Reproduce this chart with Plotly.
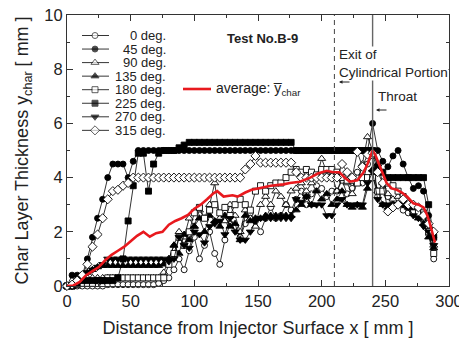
import plotly.graph_objects as go

# ---------------- data ----------------
x_mm = list(range(0, 292, 4))  # 0..288 mm

deg0 = [0, 0, 0, 0, 0, 0, 0, 0, 0.05, 0.05, 0.05, 0.05, 0.05, 0.05, 0.05, 0.05, 0.05, 0.05, 0.1, 0.2,
        0.3, 0.6, 1.0, 0.6, 1.3, 1.8, 1.0, 1.5, 2.0, 1.2, 0.8, 1.7, 2.3, 2.2, 1.8, 2.3, 2.7, 2.4, 2.0, 2.5,
        2.9, 2.5, 2.6, 3.0, 2.8, 3.2, 3.5, 3.0, 3.4, 3.7, 3.6, 3.3, 3.5, 3.5, 3.9, 3.4, 3.6, 4.2, 3.8, 4.5,
        4.8, 3.3, 3.6, 3.3, 3.0, 3.0, 2.8, 2.7, 2.7, 2.7, 2.5, 1.9, 1.0]
deg45 = [0, 0.4, 0.4, 0.4, 1.0, 1.8, 2.5, 3.2, 4.0, 4.5, 4.5, 4.5, 4.0, 4.6, 5.0, 5.0, 5.0, 5.0, 5.0, 5.0,
         5.0, 5.0, 5.0, 5.0, 5.0, 5.0, 5.0, 5.0, 5.0, 5.0, 5.0, 5.0, 5.0, 5.0, 5.0, 5.0, 5.0, 5.0, 5.0, 5.0,
         5.0, 5.0, 5.0, 5.0, 5.0, 5.0, 5.0, 5.0, 5.0, 5.0, 5.0, 5.0, 5.0, 5.0, 5.0, 5.0, 5.0, 5.0, 5.0, 5.0,
         6.0, 5.0, 4.6, 4.4, 4.8, 5.0, 4.5, 4.0, 3.6, 3.7, 3.5, 2.6, 1.8]
deg90 = [0, 0, 0.1, 0.2, 0.3, 0.3, 0.3, 0.3, 0.3, 0.3, 0.3, 0.3, 0.3, 0.3, 0.3, 0.3, 0.3, 0.3, 0.3, 0.5,
         1.0, 1.5, 2.0, 1.8, 2.5, 2.2, 2.8, 2.5, 3.0, 3.8, 2.5, 2.4, 3.0, 2.6, 2.0, 2.8, 2.5, 2.2, 3.0, 3.3,
         3.0, 3.5, 3.3, 3.0, 3.5, 3.6, 3.8, 3.5, 3.8, 4.0, 4.7, 4.2, 4.1, 3.5, 4.0, 3.8, 3.4, 3.8, 4.5, 5.5,
         5.0, 4.5, 3.8, 3.4, 3.2, 3.3, 3.0, 3.0, 2.8, 2.8, 2.6, 2.2, 1.5]
deg135 = [0, 0, 0.1, 0.3, 0.5, 0.6, 0.7, 0.75, 0.75, 0.75, 0.75, 0.75, 0.75, 0.75, 0.75, 0.75, 0.75, 0.75, 0.75, 0.8,
          1.0, 1.5, 1.2, 1.9, 1.7, 2.2, 2.5, 2.0, 2.6, 2.4, 2.2, 2.6, 2.2, 2.3, 1.7, 2.6, 2.4, 2.5, 2.5, 2.6,
          2.6, 2.6, 2.6, 2.6, 2.6, 2.8, 3.0, 3.3, 3.0, 3.5, 3.2, 3.4, 3.0, 3.2, 3.5, 3.0, 2.9, 3.0, 2.9, 3.6,
          4.3, 3.5, 3.0, 2.9, 3.0, 3.0, 3.0, 2.9, 2.8, 2.5, 2.3, 1.8, 1.4]
deg180 = [0, 0, 0.05, 0.1, 0.1, 0.1, 0.2, 0.2, 0.3, 0.3, 0.3, 0.3, 0.3, 0.3, 0.3, 0.3, 0.3, 0.3, 0.3, 0.3,
          0.8, 1.2, 1.8, 1.5, 2.0, 2.7, 2.9, 2.5, 2.8, 3.0, 2.7, 2.9, 2.6, 3.0, 3.2, 3.0, 2.8, 3.5, 3.7, 3.5,
          3.7, 3.8, 3.8, 4.0, 4.2, 4.3, 4.2, 4.3, 4.2, 4.1, 4.3, 4.3, 4.3, 4.2, 4.0, 3.9, 3.9, 3.8, 4.0, 4.0,
          4.0, 3.5, 3.5, 3.8, 3.7, 3.5, 3.3, 3.0, 2.7, 2.7, 2.7, 2.0, 1.2]
deg225 = [0, 0, 0.1, 0.2, 0.2, 0.2, 0.2, 0.2, 0.2, 0.2, 0.3, 1.0, 2.4, 3.7, 4.9, 4.9, 3.5, 4.5, 4.9, 5.0,
          5.0, 5.0, 5.1, 5.2, 5.3, 5.3, 5.3, 5.3, 5.3, 5.3, 5.3, 5.3, 5.3, 5.3, 5.3, 5.3, 5.3, 5.3, 5.3, 5.3,
          5.3, 5.3, 5.3, 5.3, 5.3, 5.0, 5.0, 5.0, 5.0, 5.0, 5.0, 5.0, 5.0, 5.0, 5.0, 5.0, 5.0, 5.0, 5.0, 5.0,
          5.0, 4.4, 4.2, 4.0, 4.0, 4.0, 4.0, 4.0, 4.0, 4.0, 4.0, 3.0, 1.8]
deg270 = [0, 0, 0.2, 0.3, 0.5, 0.6, 0.7, 0.8, 1.0, 1.0, 1.0, 1.0, 1.0, 1.0, 1.0, 1.0, 1.0, 1.0, 1.0, 1.0,
          0.9, 1.0, 1.8, 1.5, 1.4, 2.0, 1.9, 1.6, 2.2, 2.3, 2.4, 1.9, 2.5, 2.0, 1.7, 1.7, 2.0, 2.4, 2.5, 2.5,
          2.5, 2.5, 2.5, 2.5, 2.5, 3.2, 3.1, 3.3, 3.0, 3.0, 3.0, 2.6, 2.6, 3.0, 3.2, 3.0, 3.0, 3.0, 3.0, 3.8,
          4.2, 3.2, 3.0, 3.0, 3.0, 3.0, 3.0, 2.9, 2.6, 2.5, 2.2, 2.0, 1.5]
deg315 = [0, 0.05, 0.2, 0.4, 0.8, 1.45, 1.9, 2.5, 3.2, 3.5, 3.55, 3.7, 3.8, 4.0, 4.0, 4.0, 4.0, 4.0, 4.0, 4.0,
          4.0, 4.0, 4.0, 4.0, 4.0, 4.0, 4.0, 4.0, 4.0, 4.0, 4.0, 4.0, 4.0, 4.0, 4.0, 4.3, 4.5, 4.8, 4.55, 4.55,
          4.55, 4.55, 4.55, 4.55, 4.55, 4.2, 4.0, 4.0, 4.0, 4.0, 4.0, 4.0, 4.0, 4.0, 4.5, 4.2, 4.0, 4.95, 4.4, 4.85,
          4.9, 4.2, 3.8, 2.75, 2.9, 3.0, 3.2, 3.0, 3.0, 2.9, 2.6, 2.3, 2.0]

avg_x = [0, 5, 10, 15, 20, 25, 30, 35, 40, 45, 50, 55, 60, 65, 70, 75, 80, 85, 90, 95, 100, 105, 110,
         115, 118, 123, 130, 134, 140, 145, 150, 160, 170, 175, 183, 191, 197, 204, 209, 214, 218, 222,
         228, 233, 236, 238, 240, 242, 244, 248, 251, 255, 259, 263, 267, 272, 276, 280, 283, 285, 287, 289]
avg_y = [0, 0.02, 0.15, 0.4, 0.55, 0.7, 0.95, 1.15, 1.3, 1.45, 1.65, 1.85, 2.0, 1.82, 1.95, 2.0, 2.26, 2.4,
         2.5, 2.62, 2.85, 3.0, 3.2, 3.42, 3.5, 3.3, 3.35, 3.3, 3.45, 3.55, 3.6, 3.7, 3.75, 3.8, 3.85, 4.0,
         4.15, 4.25, 4.2, 4.2, 4.0, 3.85, 3.9, 4.2, 4.5, 4.75, 5.0, 4.85, 4.6, 4.1, 3.8, 3.6, 3.55, 3.45,
         3.3, 3.05, 3.0, 2.9, 2.6, 2.3, 1.95, 1.6]

series_names = ["0 deg.", "45 deg.", "90 deg.", "135 deg.", "180 deg.", "225 deg.", "270 deg.", "315 deg."]
series_vals = [deg0, deg45, deg90, deg135, deg180, deg225, deg270, deg315]
avg_name = "average: y\u0305<sub>char</sub>"

x_ticks = [0, 50, 100, 150, 200, 250, 300]
y_ticks = [0, 2, 4, 6, 8, 10]
exit_x = 210
throat_x = 240

# ---------------- styles ----------------
styles = [
    dict(symbol="circle", color="white"),
    dict(symbol="circle", color="black"),
    dict(symbol="triangle-up", color="white"),
    dict(symbol="triangle-up", color="black"),
    dict(symbol="square", color="white"),
    dict(symbol="square", color="black"),
    dict(symbol="triangle-down", color="black"),
    dict(symbol="diamond", color="white"),
]
msize = [6, 6, 7, 7, 6, 6, 7, 7]

FONT = "Liberation Sans, Arial, sans-serif"
fig = go.Figure()

for name, vals, st, ms in zip(series_names, series_vals, styles, msize):
    fig.add_trace(go.Scatter(
        x=x_mm, y=vals, mode="lines+markers", name=name, showlegend=False,
        line=dict(color="black", width=0.8),
        marker=dict(symbol=st["symbol"], size=ms, color=st["color"],
                    line=dict(color="black", width=0.9)),
        cliponaxis=False,
    ))

fig.add_trace(go.Scatter(x=avg_x, y=avg_y, mode="lines", name=avg_name, showlegend=False,
                         line=dict(color="#e8191e", width=2.6), cliponaxis=False))

# ---------------- geometry (page pixels; page body has an 8px default margin) ----------------
BODY = 8
PAGE_W, PAGE_H = 467, 350
L_PX, R_PX, T_PX, B_PX = 67, 449, 15, 286
W, H = R_PX - L_PX, B_PX - T_PX
def px2fx(px): return (px - L_PX) / W
def px2fy(py): return (B_PX - py) / H

row0, step = 35.5, 13.55
for i, (name, st, ms) in enumerate(zip(series_names, styles, msize)):
    yy = px2fy(row0 + i * step)
    fig.add_trace(go.Scatter(
        x=[px2fx(82), px2fx(95), px2fx(109)], y=[yy, yy, yy], mode="lines+markers",
        xaxis="x2", yaxis="y2", showlegend=False, hoverinfo="skip",
        line=dict(color="black", width=0.8),
        marker=dict(symbol=st["symbol"], size=[0, ms, 0], color=st["color"],
                    line=dict(color="black", width=0.9)),
    ))
    fig.add_annotation(x=px2fx(167), y=yy, xref="x2", yref="y2", text=name, showarrow=False,
                       xanchor="right", yanchor="middle", borderpad=0,
                       font=dict(family=FONT, size=13, color="#222"))

yy = px2fy(89)
fig.add_trace(go.Scatter(x=[px2fx(183), px2fx(211)], y=[yy, yy], mode="lines", xaxis="x2", yaxis="y2",
                         showlegend=False, hoverinfo="skip", line=dict(color="#e8191e", width=2.6)))
fig.add_annotation(x=px2fx(214), y=yy, xref="x2", yref="y2", text=avg_name, showarrow=False,
                   xanchor="left", yanchor="middle", font=dict(family=FONT, size=14, color="#222"))

# ---------------- reference lines & texts ----------------
fig.add_shape(type="line", x0=exit_x, x1=exit_x, y0=0, y1=1, xref="x", yref="paper",
              line=dict(color="#444", width=1, dash="5px,4px"))
fig.add_shape(type="line", x0=throat_x, x1=throat_x, y0=0, y1=1, xref="x", yref="paper",
              line=dict(color="#666", width=1.4))

fig.add_annotation(x=px2fx(262), y=px2fy(38), xref="x2", yref="y2", text="<b>Test No.B-9</b>",
                   showarrow=False, font=dict(family=FONT, size=13, color="#222"))
fig.add_annotation(x=px2fx(338), y=px2fy(63.5), xref="x2", yref="y2",
                   text="Exit of<br>Cylindrical Portion", showarrow=False, align="left",
                   xanchor="left", yanchor="middle", bgcolor="white", borderpad=0,
                   font=dict(family=FONT, size=13.5, color="#222"))
fig.add_annotation(x=px2fx(376), y=px2fy(96), xref="x2", yref="y2", text="Throat", showarrow=False,
                   xanchor="left", yanchor="middle", font=dict(family=FONT, size=13.5, color="#222"))
# small left-pointing arrows
for ax_px, ay_px in [(339, 82), (376, 110)]:
    fig.add_annotation(x=px2fx(ax_px), y=px2fy(ay_px), xref="x2", yref="y2", text="",
                       showarrow=True, ax=12, ay=0, arrowhead=2, arrowsize=0.7,
                       arrowwidth=1, arrowcolor="#222", standoff=0)

axis_common = dict(showgrid=False, zeroline=False, showline=True, linecolor="#333", linewidth=1.2,
                   mirror="ticks", ticks="inside", ticklen=6, tickcolor="#333", tickwidth=1,
                   automargin=False, ticklabeloverflow="allow",
                   tickfont=dict(family=FONT, size=16.5, color="#222"))

fig_w, fig_h = PAGE_W - BODY, PAGE_H - BODY
fig.update_layout(
    width=fig_w, height=fig_h,
    margin=dict(l=L_PX - BODY, r=fig_w - (R_PX - BODY), t=T_PX - BODY, b=fig_h - (B_PX - BODY)),
    plot_bgcolor="white", paper_bgcolor="white", showlegend=False,
    font=dict(family=FONT, color="#222"),
    xaxis=dict(range=[0, 300], tickvals=x_ticks, ticktext=[str(v) for v in x_ticks],
               minor=dict(dtick=25, ticks="inside", ticklen=3, tickcolor="#333"),
               title=dict(text="Distance from Injector Surface x [ mm ]", standoff=12,
                          font=dict(family=FONT, size=18, color="#222")),
               **axis_common),
    yaxis=dict(range=[0, 10], tickvals=y_ticks, ticktext=[str(v) for v in y_ticks],
               minor=dict(dtick=1, ticks="inside", ticklen=3, tickcolor="#333"),
               title=dict(text="Char Layer Thickness y<sub>char</sub> [ mm ]", standoff=10,
                          font=dict(family=FONT, size=18, color="#222")),
               **axis_common),
    xaxis2=dict(overlaying="x", range=[0, 1], visible=False, fixedrange=True),
    yaxis2=dict(overlaying="y", range=[0, 1], visible=False, fixedrange=True),
)

fig.write_html("out.html")
